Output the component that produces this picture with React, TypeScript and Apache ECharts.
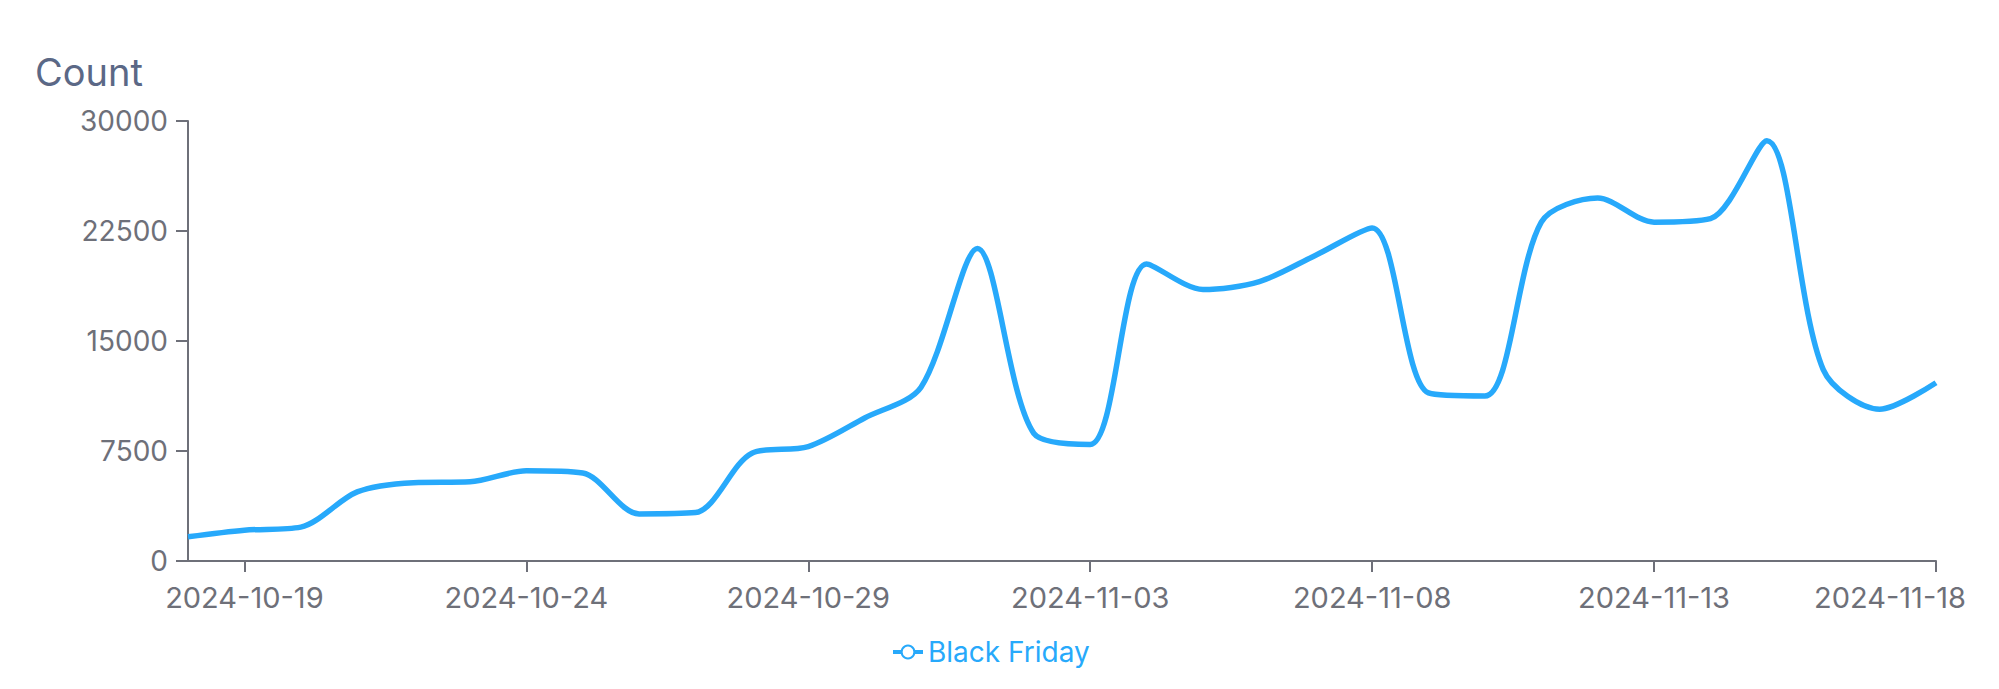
import { useRef, useEffect } from "react";
import * as echarts from "echarts";
import type { EChartsOption } from "echarts";

const dates = [
  "2024-10-18", "2024-10-19", "2024-10-20", "2024-10-21", "2024-10-22", "2024-10-23",
  "2024-10-24", "2024-10-25", "2024-10-26", "2024-10-27", "2024-10-28", "2024-10-29",
  "2024-10-30", "2024-10-31", "2024-11-01", "2024-11-02", "2024-11-03", "2024-11-04",
  "2024-11-05", "2024-11-06", "2024-11-07", "2024-11-08", "2024-11-09", "2024-11-10",
  "2024-11-11", "2024-11-12", "2024-11-13", "2024-11-14", "2024-11-15", "2024-11-16",
  "2024-11-17", "2024-11-18",
];

const blackFriday = [
  1650, 2100, 2310, 4710, 5340, 5400, 6150, 6000, 3210, 3300, 7350, 7800,
  9750, 11850, 21300, 8700, 7950, 20250, 18510, 19050, 20850, 22710, 11460, 11250,
  23100, 24750, 23100, 23340, 28650, 13050, 10350, 12150,
];

const yTicks = { min: 0, max: 30000, interval: 7500 };

const FONT = "Inter, 'Noto Sans', sans-serif";
const BLUE = "#27a9fb";
const AXIS = "#6e7079";

// every fifth day, starting from the 19th
const showEvery5th = (idx: number) => idx % 5 === 1;

export default function App() {
  const chartRef = useRef<HTMLDivElement>(null);

  useEffect(() => {
    if (!chartRef.current) return;
    const chart = echarts.init(chartRef.current, undefined, { renderer: "svg" });

    const option: EChartsOption = {
      animation: false,
      textStyle: { fontFamily: FONT },
      title: {
        text: "Count",
        left: 30,
        top: 48,
        textStyle: { fontSize: 38, fontWeight: "normal", color: "#5b6886", fontFamily: FONT },
      },
      legend: {
        data: ["Black Friday"],
        left: 886,
        top: 633,
        itemWidth: 30,
        itemHeight: 16,
        itemGap: 8,
        lineStyle: { width: 4 },
        itemStyle: { borderWidth: 3 },
        textStyle: { color: BLUE, fontSize: 28, fontFamily: FONT },
      },
      grid: { left: 188, right: 63, top: 121, bottom: 128, outerBoundsMode: "none" } as any,
      xAxis: {
        type: "category",
        data: dates,
        boundaryGap: false,
        axisLine: { lineStyle: { color: AXIS, width: 2 } },
        axisTick: { interval: showEvery5th, length: 11, lineStyle: { color: AXIS, width: 2 } },
        axisLabel: {
          interval: showEvery5th,
          color: AXIS,
          fontSize: 29,
          margin: 22,
          fontFamily: FONT,
          // the last label is pulled left so it stays inside the chart
          formatter: (v: string, idx: number) => (idx === dates.length - 1 ? `{end|${v}}` : v),
          rich: {
            end: { color: AXIS, fontSize: 29, fontFamily: FONT, padding: [0, 92, 0, 0] },
          },
        },
        splitLine: { show: false },
      },
      yAxis: {
        type: "value",
        ...yTicks,
        axisLine: { show: true, lineStyle: { color: AXIS, width: 2 } },
        axisTick: { show: true, length: 12, lineStyle: { color: AXIS, width: 2 } },
        axisLabel: {
          color: AXIS,
          fontSize: 28,
          margin: 20,
          fontFamily: FONT,
          formatter: (v: number) => String(v),
        },
        splitLine: { show: false },
      },
      series: [
        {
          name: "Black Friday",
          type: "line",
          data: blackFriday,
          smooth: 0.3,
          showSymbol: false,
          symbol: "emptyCircle",
          color: BLUE,
          lineStyle: { color: BLUE, width: 5.5 },
        },
      ],
    };

    chart.setOption(option);
    return () => chart.dispose();
  }, []);

  return (
    <div
      ref={chartRef}
      style={{ position: "fixed", left: 0, top: 0, width: 1999, height: 689, background: "#fff" }}
    />
  );
}
